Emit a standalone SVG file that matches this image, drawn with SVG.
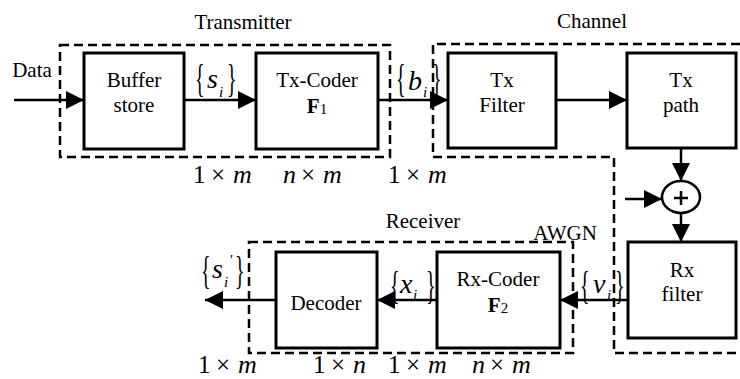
<svg xmlns="http://www.w3.org/2000/svg" width="740" height="379" viewBox="0 0 740 379" font-family="'Liberation Serif','DejaVu Serif',serif">
<defs>
<marker id="ah" markerUnits="userSpaceOnUse" markerWidth="18" markerHeight="18" refX="18" refY="9" orient="auto">
<path d="M0,0 L18,9 L0,18 z" fill="#000"/>
</marker>
<style>
.box{fill:#fff;stroke:#000;stroke-width:3}
.dash{fill:none;stroke:#000;stroke-width:2.5;stroke-dasharray:9 5}
.ln{fill:none;stroke:#000;stroke-width:2.5}
text{font-family:'Liberation Serif','DejaVu Serif',serif;fill:#000}
.t{font-size:21px;text-anchor:middle}
.m{font-size:25px}
.mi{font-size:26px;font-style:italic}
.bl{font-size:28px;font-style:italic}
.br{font-size:40px;font-style:normal}
.sub{font-size:15px;font-style:italic}
</style>
</defs>
<rect width="740" height="379" fill="#fff"/>

<g id="groups">
<rect class="dash" x="60" y="45" width="330" height="112"/>
<path class="dash" d="M740,44 H433 V157 H614 V353 H740"/>
<rect class="dash" x="249" y="242" width="324" height="111"/>
<text class="t" x="243" y="29">Transmitter</text>
<text class="t" x="592" y="28">Channel</text>
<text class="t" x="423" y="228">Receiver</text>
<text class="t" x="565" y="240">AWGN</text>
</g>

<g id="connectors">
<line class="ln" x1="14" y1="100" x2="84" y2="100" marker-end="url(#ah)"/>
<line class="ln" x1="184" y1="100" x2="256" y2="100" marker-end="url(#ah)"/>
<line class="ln" x1="378" y1="100" x2="448" y2="100" marker-end="url(#ah)"/>
<line class="ln" x1="556" y1="100" x2="627" y2="100" marker-end="url(#ah)"/>
<line class="ln" x1="681" y1="148" x2="681" y2="181" marker-end="url(#ah)"/>
<line class="ln" x1="625" y1="199" x2="662" y2="199" marker-end="url(#ah)"/>
<line class="ln" x1="681" y1="213" x2="681" y2="242" marker-end="url(#ah)"/>
<line class="ln" x1="628" y1="300" x2="560" y2="300" marker-end="url(#ah)"/>
<line class="ln" x1="437" y1="300" x2="377" y2="300" marker-end="url(#ah)"/>
<line class="ln" x1="276" y1="300" x2="205" y2="300" marker-end="url(#ah)"/>
</g>

<g id="data"><text class="t" x="32" y="77">Data</text></g>

<g id="buffer">
<rect class="box" x="84" y="53" width="100" height="96"/>
<text class="t" x="134" y="87">Buffer</text>
<text class="t" x="134" y="112">store</text>
</g>

<g id="txcoder">
<rect class="box" x="256" y="53" width="122" height="96"/>
<text class="t" x="317" y="87">Tx-Coder</text>
<text class="t" x="317" y="113"><tspan font-weight="bold">F</tspan><tspan font-size="15" dy="1">1</tspan></text>
</g>

<g id="txfilter">
<rect class="box" x="448" y="53" width="108" height="95"/>
<text class="t" x="502" y="87">Tx</text>
<text class="t" x="502" y="112">Filter</text>
</g>

<g id="txpath">
<rect class="box" x="627" y="53" width="109" height="95"/>
<text class="t" x="681" y="87">Tx</text>
<text class="t" x="681" y="112">path</text>
</g>

<g id="adder">
<ellipse cx="681" cy="197" rx="19" ry="16" fill="#fff" stroke="#000" stroke-width="2.5"/>
<line class="ln" x1="674" y1="198" x2="688" y2="198" stroke-width="2"/>
<line class="ln" x1="681" y1="191" x2="681" y2="205" stroke-width="2"/>
</g>

<g id="rxfilter">
<rect class="box" x="628" y="242" width="108" height="96"/>
<text class="t" x="682" y="277">Rx</text>
<text class="t" x="682" y="301">filter</text>
</g>

<g id="rxcoder">
<rect class="box" x="437" y="252" width="123" height="96"/>
<text class="t" x="498" y="286">Rx-Coder</text>
<text class="t" x="498" y="312"><tspan font-weight="bold">F</tspan><tspan font-size="15" dy="1">2</tspan></text>
</g>

<g id="decoder">
<rect class="box" x="276" y="252" width="101" height="96"/>
<text class="t" x="326" y="310">Decoder</text>
</g>

<g id="labels">
<text class="br" transform="translate(195,92) scale(0.5,1)">{</text>
<text class="bl" x="207" y="88">s<tspan class="sub" x="219" y="97">i</tspan></text>
<text class="br" transform="translate(227,92) scale(0.5,1)">}</text>

<text class="br" transform="translate(396,92) scale(0.5,1)">{</text>
<text class="bl" x="408" y="90">b<tspan class="sub" x="423" y="97">i</tspan></text>
<text class="br" transform="translate(432,92) scale(0.5,1)">}</text>

<text class="br" transform="translate(201,284) scale(0.5,1)">{</text>
<text class="bl" x="212" y="278">s<tspan class="sub" x="224" y="287">i</tspan><tspan class="sub" x="229" y="265" font-style="normal" font-size="13">'</tspan></text>
<text class="br" transform="translate(235,284) scale(0.5,1)">}</text>

<text class="br" transform="translate(390,299) scale(0.5,1)">{</text>
<text class="bl" x="400" y="293">x<tspan class="sub" x="413" y="300">i</tspan></text>
<text class="br" transform="translate(426,299) scale(0.5,1)">}</text>

<text class="br" transform="translate(580,299) scale(0.5,1)">{</text>
<text class="bl" x="593" y="293">v<tspan class="sub" x="607" y="300">i</tspan></text>
<text class="br" transform="translate(615,299) scale(0.5,1)">}</text>

<text class="m" y="183"><tspan x="193">1</tspan><tspan x="211">×</tspan><tspan class="mi" x="233">m</tspan></text>
<text class="m" y="183"><tspan class="mi" x="283">n</tspan><tspan x="301">×</tspan><tspan class="mi" x="323">m</tspan></text>
<text class="m" y="183"><tspan x="388">1</tspan><tspan x="406">×</tspan><tspan class="mi" x="428">m</tspan></text>
<text class="m" y="373"><tspan x="198">1</tspan><tspan x="216">×</tspan><tspan class="mi" x="238">m</tspan></text>
<text class="m" y="373"><tspan x="313">1</tspan><tspan x="331">×</tspan><tspan class="mi" x="353">n</tspan></text>
<text class="m" y="373"><tspan x="388">1</tspan><tspan x="406">×</tspan><tspan class="mi" x="428">m</tspan></text>
<text class="m" y="373"><tspan class="mi" x="472">n</tspan><tspan x="490">×</tspan><tspan class="mi" x="512">m</tspan></text>
</g>
</svg>
